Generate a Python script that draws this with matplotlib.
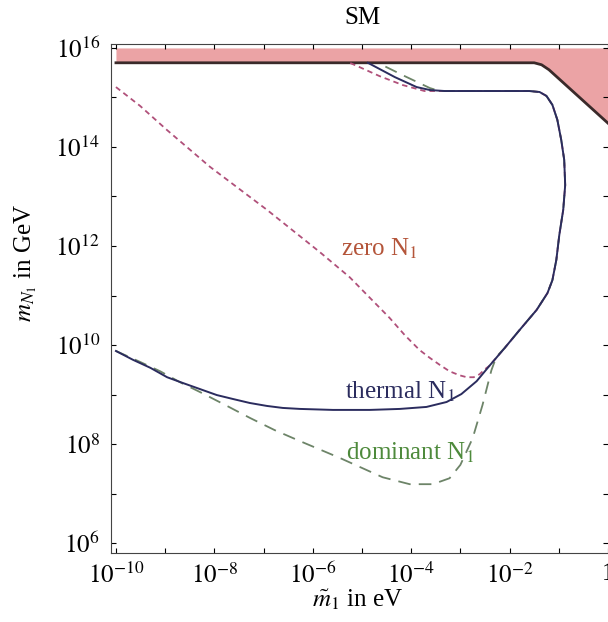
import numpy as np
import matplotlib
matplotlib.use("Agg")
import matplotlib.pyplot as plt

plt.rcParams['font.family'] = ['Liberation Serif', 'DejaVu Serif']
plt.rcParams['mathtext.fontset'] = 'stix'

# log10 of m~1 [eV] and log10 of m_N1 [GeV]
therm_lx = [-10.0, -9.65, -9.30, -8.96, -8.63, -8.29, -7.95, -7.62, -7.28, -6.93,
            -6.61, -6.26, -5.59, -4.84, -4.23, -3.69, -3.28, -2.98, -2.67, -2.41,
            -2.10, -1.80, -1.45, -1.23, -1.13, -1.05, -0.99, -0.91, -0.87, -0.89,
            -0.95, -1.03, -1.13, -1.25, -1.39, -1.60, -3.32, -3.62, -3.89, -4.33,
            -4.88]
therm_ly = [9.88, 9.70, 9.54, 9.35, 9.23, 9.11, 8.99, 8.91, 8.83, 8.77,
            8.73, 8.71, 8.69, 8.69, 8.71, 8.75, 8.85, 9.01, 9.27, 9.58,
            9.94, 10.30, 10.71, 11.05, 11.31, 11.72, 12.22, 12.73, 13.23, 13.74,
            14.14, 14.55, 14.85, 15.03, 15.11, 15.13, 15.13, 15.15, 15.21, 15.41,
            15.70]

zero_lx = [-10.0, -9.51, -8.96, -8.09, -6.93, -5.86, -5.25, -4.44, -4.13, -3.83,
           -3.62, -3.42, -3.22, -3.02, -2.87, -2.73, -2.61, -2.49, -2.41, -2.10,
           -1.80, -1.45, -1.23, -1.13, -1.05, -0.99, -0.91, -0.87, -0.89, -0.95,
           -1.03, -1.13, -1.25, -1.39, -1.60, -3.32, -3.73, -4.17, -4.64, -5.11,
           -5.25]
zero_ly = [15.21, 14.83, 14.34, 13.60, 12.73, 11.88, 11.37, 10.55, 10.20, 9.90,
           9.74, 9.60, 9.47, 9.39, 9.35, 9.35, 9.41, 9.52, 9.58, 9.94,
           10.30, 10.71, 11.05, 11.31, 11.72, 12.22, 12.73, 13.23, 13.74, 14.14,
           14.55, 14.85, 15.03, 15.11, 15.13, 15.13, 15.13, 15.25, 15.43, 15.64,
           15.70]

dom_lx = [-10.0, -9.51, -9.10, -8.70, -8.29, -7.78, -7.28, -6.77, -6.26, -5.45,
          -4.58, -4.03, -3.56, -3.22, -3.00, -2.75, -2.55, -2.37, -2.27, -2.10,
          -1.80, -1.45, -1.23, -1.13, -1.05, -0.99, -0.91, -0.87, -0.89, -0.95,
          -1.03, -1.13, -1.25, -1.39, -1.60, -3.42, -3.62, -4.13, -4.64]
dom_ly = [9.88, 9.66, 9.47, 9.25, 9.05, 8.79, 8.53, 8.28, 8.06, 7.72,
          7.33, 7.19, 7.19, 7.31, 7.58, 8.12, 8.79, 9.49, 9.76, 9.94,
          10.30, 10.71, 11.05, 11.31, 11.72, 12.22, 12.73, 13.23, 13.74, 14.14,
          14.55, 14.85, 15.03, 15.11, 15.13, 15.13, 15.19, 15.43, 15.68]

# excluded region boundary (shaded up to 10^16)
bnd_lx = [-10.0, -1.50, -1.35, -1.20, 0.0]
bnd_ly = [15.70, 15.70, 15.66, 15.56, 14.48]
bnd_top = 16.0

xtick_pows = [-10, -8, -6, -4, -2, 0]
xtick_labels = [r'$10^{-10}$', r'$10^{-8}$', r'$10^{-6}$', r'$10^{-4}$', r'$10^{-2}$', '1']
ytick_pows = [6, 8, 10, 12, 14, 16]

fig = plt.figure(figsize=(6.08, 6.22), dpi=100)
ax = fig.add_axes([0.1826, 0.1109, 0.8174, 0.8184])

bx = 10.0 ** np.array(bnd_lx)
by = 10.0 ** np.array(bnd_ly)
ax.fill_between(bx, by, 10.0 ** bnd_top, color='#eba3a5', lw=0, zorder=1)
ax.plot(bx, by, color='#3a2a2a', lw=2.0, zorder=2)

ax.plot(10.0 ** np.array(zero_lx), 10.0 ** np.array(zero_ly), color='#b0507a',
        lw=1.3, dashes=(3, 2.2), zorder=3)
ax.plot(10.0 ** np.array(dom_lx), 10.0 ** np.array(dom_ly), color='#6d8468',
        lw=1.3, dashes=(7, 4.5), zorder=3)
ax.plot(10.0 ** np.array(therm_lx), 10.0 ** np.array(therm_ly), color='#2b2c5e',
        lw=1.4, zorder=4)

ax.text(10.0 ** -4.64, 10.0 ** 11.95, r'zero N$_1$', color='#b4553a', fontsize=18,
        ha='center', va='center')
ax.text(10.0 ** -4.23, 10.0 ** 9.05, r'thermal N$_1$', color='#2b2c5e', fontsize=18,
        ha='center', va='center')
ax.text(10.0 ** -4.03, 10.0 ** 7.82, r'dominant N$_1$', color='#4e8a3c', fontsize=18,
        ha='center', va='center')

ax.set_xscale('log')
ax.set_yscale('log')
ax.set_xlim(10.0 ** -10.1, 1.0)
ax.set_ylim(10.0 ** 5.8, 10.0 ** 16.08)

ax.set_xticks([10.0 ** p for p in xtick_pows])
ax.set_xticklabels(xtick_labels)
ax.set_xticks([10.0 ** p for p in range(-9, 0, 2)], minor=True)
ax.set_yticks([10.0 ** p for p in ytick_pows])
ax.set_yticklabels([r'$10^{%d}$' % p for p in ytick_pows])
ax.set_yticks([10.0 ** p for p in range(7, 16, 2)], minor=True)
ax.tick_params(which='both', direction='in', top=True, right=True, labelsize=18,
               length=3.5, width=0.8)
ax.tick_params(axis='y', pad=8)
ax.tick_params(axis='x', pad=7)
ax.tick_params(which='minor', labelbottom=False, labelleft=False)
ax.spines['right'].set_visible(False)
for s in ax.spines.values():
    s.set_color('#444444')

fig.text(0.597, 0.971, 'SM', fontsize=18, ha='center', va='center')
ax.set_xlabel(r'$\tilde{m}_1$ in eV', fontsize=18)
ax.xaxis.set_label_coords(0.497, -0.068)
ax.set_ylabel(r'$m_{N_1}$ in GeV', fontsize=18)
ax.yaxis.set_label_coords(-0.145, 0.57)

fig.savefig('out.png', dpi=100)
